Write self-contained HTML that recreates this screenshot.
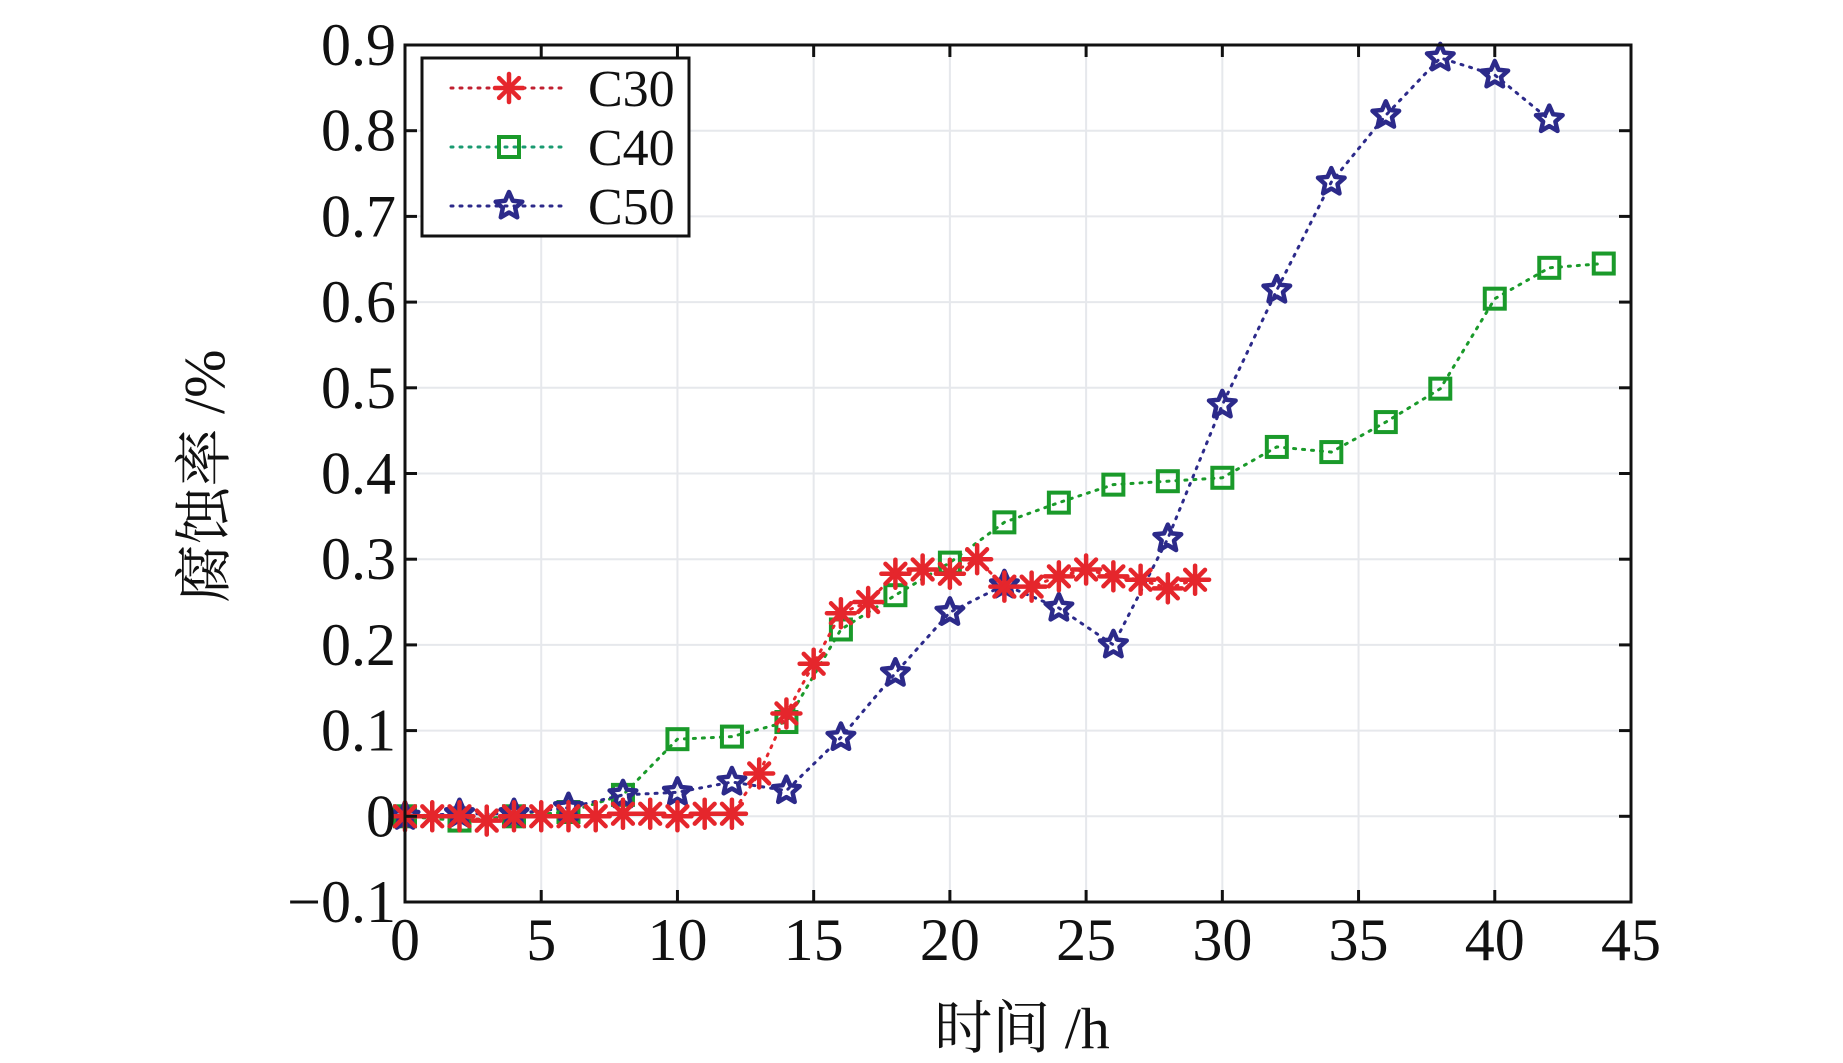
<!DOCTYPE html>
<html><head><meta charset="utf-8"><style>
body{margin:0;background:#fff;}
svg{display:block;}
text{font-family:"Liberation Serif","Noto Serif CJK SC",serif;fill:#111;}
</style></head><body>
<svg id="chart" width="1843" height="1063" viewBox="0 0 1843 1063" xmlns="http://www.w3.org/2000/svg">
<g id="grid"></g>
<g id="series"></g>
<rect x="405" y="45" width="1226" height="857" fill="none" stroke="#111" stroke-width="3"/>
<g id="ticks"></g>
<text transform="translate(224,476) rotate(-90)" text-anchor="middle" font-size="58">腐蚀率 /%</text>
<text x="1022" y="1048" text-anchor="middle" font-size="58">时间 /h</text>
<g>
<rect x="422" y="58" width="267" height="178" fill="#fff" stroke="#111" stroke-width="3"/>
<g id="legend-items"></g>
</g>
</svg>
<script>
const xTicks=[0,5,10,15,20,25,30,35,40,45];
const yTicks=[-0.1,0,0.1,0.2,0.3,0.4,0.5,0.6,0.7,0.8,0.9];
const yTickLabels=["\u22120.1","0","0.1","0.2","0.3","0.4","0.5","0.6","0.7","0.8","0.9"];
const c30x=[0,1,2,3,4,5,6,7,8,9,10,11,12,13,14,15,16,17,18,19,20,21,22,23,24,25,26,27,28,29];
const c30y=[0,0,0,-0.005,0,0,0,0,0.003,0.003,0,0.003,0.003,0.05,0.12,0.178,0.237,0.25,0.283,0.288,0.283,0.3,0.268,0.268,0.28,0.288,0.28,0.276,0.266,0.276];
const c40x=[0,2,4,6,8,10,12,14,16,18,20,22,24,26,28,30,32,34,36,38,40,42,44];
const c40y=[0,-0.005,0,0.005,0.025,0.09,0.093,0.11,0.218,0.258,0.296,0.343,0.366,0.387,0.391,0.395,0.431,0.425,0.46,0.499,0.604,0.64,0.645];
const c50x=[0,2,4,6,8,10,12,14,16,18,20,22,24,26,28,30,32,34,36,38,40,42];
const c50y=[0,0.003,0.003,0.01,0.025,0.028,0.04,0.03,0.092,0.167,0.238,0.27,0.243,0.2,0.324,0.48,0.614,0.74,0.818,0.885,0.865,0.813];
const seriesNames=["C30","C40","C50"];

const NS="http://www.w3.org/2000/svg";
const L=405,R=1631,T=45,B=902;
const sx=v=>L+(v-0)/(45-0)*(R-L);
const sy=v=>B-(v-(-0.1))/(1.0)*(B-T);
function mk(tag,attrs,parent){const e=document.createElementNS(NS,tag);for(const k in attrs)e.setAttribute(k,attrs[k]);parent.appendChild(e);return e;}
const grid=document.getElementById('grid'),ticks=document.getElementById('ticks'),ser=document.getElementById('series');
xTicks.forEach(v=>{
  const x=sx(v);
  const g=mk('line',{x1:x,x2:x,y1:T,y2:B,stroke:'#e6e8ec','stroke-width':2},grid);
  
  
  mk('line',{x1:x,x2:x,y1:B,y2:B-12,stroke:'#111','stroke-width':3},ticks);
  mk('line',{x1:x,x2:x,y1:T,y2:T+12,stroke:'#111','stroke-width':3},ticks);
  const t=mk('text',{x:x,y:960,'text-anchor':'middle','font-size':60},ticks);
  t.textContent=v;
  
  
});
yTicks.forEach((v,i)=>{
  const y=sy(v);
  const g=mk('line',{x1:L,x2:R,y1:y,y2:y,stroke:'#e6e8ec','stroke-width':2},grid);
  
  
  mk('line',{x1:L,x2:L+12,y1:y,y2:y,stroke:'#111','stroke-width':3},ticks);
  mk('line',{x1:R,x2:R-12,y1:y,y2:y,stroke:'#111','stroke-width':3},ticks);
  const t=mk('text',{x:396,y:y+20,'text-anchor':'end','font-size':60},ticks);
  t.textContent=yTickLabels[i];
  
  
});
function marker(type,x,y,color,parent){
  if(type==='star'){
    const p=[];for(let k=0;k<10;k++){const a=-Math.PI/2+k*Math.PI/5,r=k%2?6.5:14;p.push((x+r*Math.cos(a)).toFixed(1)+','+(y+r*Math.sin(a)).toFixed(1));}
    return mk('polygon',{points:p.join(' '),fill:'none',stroke:color,'stroke-width':4.5,'stroke-linejoin':'round'},parent);
  }else if(type==='square'){
    return mk('rect',{x:x-10,y:y-10,width:20,height:20,fill:'none',stroke:color,'stroke-width':4},parent);
  }else{
    const g=mk('g',{stroke:color,'stroke-width':4.5,'stroke-linecap':'round'},parent);
    for(let k=0;k<4;k++){const a=k*Math.PI/4;mk('line',{x1:x-14*Math.cos(a),y1:y-14*Math.sin(a),x2:x+14*Math.cos(a),y2:y+14*Math.sin(a)},g);}
    return g;
  }
}
const defs=[[c40x,c40y,'#1a9a2a','square','series-c40'],[c50x,c50y,'#2c2a8a','star','series-c50'],[c30x,c30y,'#e5262c','asterisk','series-c30']];
defs.forEach(([xs,ys,col,type,name])=>{
  const g=mk('g',{},ser);
  
  
  const pts=xs.map((x,i)=>sx(x).toFixed(1)+','+sy(ys[i]).toFixed(1)).join(' ');
  mk('polyline',{points:pts,fill:'none',stroke:col,'stroke-width':3,'stroke-dasharray':'2 7','stroke-linecap':'round'},g);
  xs.forEach((x,i)=>{
    const m=marker(type,sx(x),sy(ys[i]),col,g);
    
    
  });
});
const li=document.getElementById('legend-items');
const legCols=['#c02030','#1a9a70','#2c2a8a'],legTypes=['asterisk','square','star'],legMk=['#e5262c','#1a9a2a','#2c2a8a'];
seriesNames.forEach((n,i)=>{
  const y=88+i*59;
  const g=mk('g',{},li);
  
  
  mk('line',{x1:451,x2:567,y1:y,y2:y,stroke:legCols[i],'stroke-width':3,'stroke-dasharray':'2 7','stroke-linecap':'round'},g);
  marker(legTypes[i],509,y,legMk[i],g);
  const t=mk('text',{x:588,y:y+18,'font-size':52},g);
  t.textContent=n;
});
</script>
</body></html>
